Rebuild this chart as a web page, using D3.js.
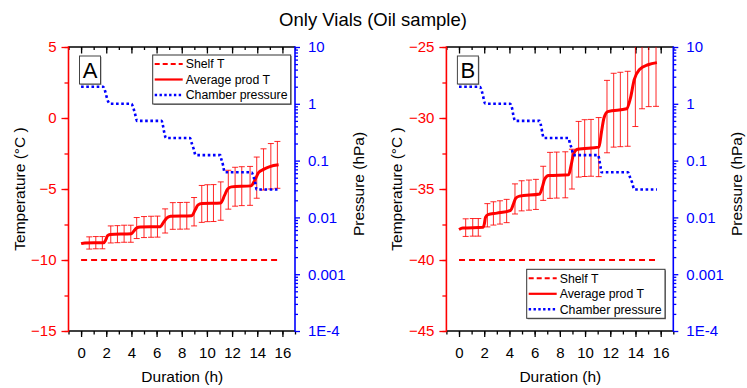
<!DOCTYPE html>
<html><head><meta charset="utf-8">
<script src="https://cdn.jsdelivr.net/npm/d3@7"></script>
<style>body{margin:0;background:#fff}svg{display:block;font-family:"Liberation Sans",Arial,sans-serif}</style>
</head><body><svg id="c" width="747" height="388"></svg>
<script>
// ---------- data ----------
const title = "Only Vials (Oil sample)";
const xTicks = [0, 2, 4, 6, 8, 10, 12, 14, 16];
const pTicks = [10, 1, 0.1, 0.01, 0.001, 0.0001];
const pTickLabels = ["10", "1", "0.1", "0.01", "0.001", "1E-4"];
const legendLabels = ["Shelf T", "Average prod T", "Chamber pressure"];

// Panel A
const tempTicksA = [5, 0, -5, -10, -15];
const shelfTimeA = [0, 15.7];
const shelfA = [-10, -10];
const prodTimeA = [0, 0.3, 1.8, 1.95, 2.1, 2.3, 4.0, 4.2, 4.4, 4.7, 6.3, 6.55, 6.8, 7.1, 8.8, 9.05, 9.3, 9.6, 11.1, 11.4, 11.65, 11.95, 13.5, 13.8, 14.1, 14.5, 15.0, 15.7];
const prodA = [-8.85, -8.8, -8.78, -8.6, -8.3, -8.2, -8.15, -7.95, -7.75, -7.68, -7.65, -7.35, -7.05, -6.92, -6.88, -6.5, -6.12, -6.02, -5.98, -5.45, -5.0, -4.85, -4.78, -4.4, -3.85, -3.62, -3.42, -3.3];
const errTimeA = [0.65, 1.17, 1.69, 2.36, 2.89, 3.42, 3.95, 4.42, 5.0, 5.56, 6.07, 6.68, 7.29, 7.87, 8.4, 8.98, 9.59, 10.04, 10.52, 11.1, 11.7, 12.24, 12.77, 13.43, 13.96, 14.5, 15.08, 15.6];
const errMeanA = [-8.8, -8.78, -8.78, -8.2, -8.18, -8.15, -8.15, -7.75, -7.68, -7.66, -7.65, -7.25, -6.9, -6.89, -6.88, -6.6, -6.05, -6.0, -5.99, -5.85, -5.05, -4.84, -4.8, -4.78, -4.2, -3.62, -3.4, -3.3];
const errA = [0.43, 0.43, 0.43, 0.6, 0.6, 0.6, 0.6, 0.74, 0.74, 0.74, 0.74, 0.85, 0.94, 0.94, 0.94, 1.0, 1.3, 1.3, 1.3, 1.35, 1.37, 1.37, 1.37, 1.37, 1.45, 1.45, 1.6, 1.65];
const presTimeA = [0, 1.75, 1.9, 2.0, 2.15, 2.3, 4.0, 4.15, 4.3, 4.45, 6.4, 6.5, 6.6, 6.75, 8.65, 8.8, 8.95, 9.1, 11.05, 11.15, 11.3, 11.4, 13.55, 13.7, 13.85, 13.95, 15.7];
const presA = [2, 2, 1.7, 1.4, 1.1, 1, 1, 0.85, 0.65, 0.5, 0.5, 0.42, 0.32, 0.25, 0.25, 0.2, 0.16, 0.125, 0.125, 0.105, 0.08, 0.0625, 0.0625, 0.052, 0.04, 0.031, 0.031];

// Panel B
const tempTicksB = [-25, -30, -35, -40, -45];
const shelfTimeB = [0, 15.7];
const shelfB = [-40, -40];
const prodTimeB = [0, 0.3, 1.9, 2.0, 2.1, 2.3, 3.0, 4.1, 4.3, 4.5, 4.8, 6.4, 6.6, 6.8, 7.1, 8.7, 8.9, 9.1, 9.4, 11.1, 11.3, 11.5, 11.8, 13.3, 13.6, 13.9, 14.3, 15.0, 15.7];
const prodB = [-37.85, -37.75, -37.7, -37.5, -37.0, -36.8, -36.7, -36.5, -36.1, -35.65, -35.5, -35.35, -34.9, -34.3, -34.05, -34.0, -33.3, -32.5, -32.2, -32.05, -31.0, -30.0, -29.55, -29.35, -28.6, -27.3, -26.6, -26.25, -26.1];
const errTimeB = [0.53, 1.09, 1.53, 2.25, 2.73, 3.25, 3.78, 4.44, 4.97, 5.55, 6.1, 6.68, 7.22, 7.75, 8.43, 8.96, 9.49, 9.97, 10.47, 11.08, 11.74, 12.27, 12.8, 13.38, 13.99, 14.52, 15.05, 15.63];
const errMeanB = [-37.72, -37.7, -37.7, -36.85, -36.72, -36.65, -36.55, -35.7, -35.48, -35.43, -35.38, -34.6, -34.04, -34.02, -34.0, -33.6, -32.2, -32.12, -32.1, -32.05, -29.9, -29.45, -29.4, -29.35, -27.3, -26.5, -26.25, -26.12];
const errB = [0.62, 0.62, 0.62, 0.82, 0.82, 0.82, 0.82, 1.06, 1.06, 1.06, 1.06, 1.2, 1.62, 1.62, 1.62, 1.4, 1.96, 2.0, 2.0, 2.08, 2.55, 2.6, 2.62, 2.64, 3.3, 2.85, 2.95, 3.06];
const presTimeB = [0, 1.65, 1.8, 1.9, 2.0, 2.1, 4.05, 4.2, 4.3, 4.45, 6.4, 6.5, 6.6, 6.72, 8.68, 8.8, 8.95, 9.07, 11.05, 11.12, 11.22, 11.3, 13.4, 13.55, 13.75, 13.9, 15.7];
const presB = [2, 2, 1.7, 1.4, 1.1, 1, 1, 0.85, 0.65, 0.5, 0.5, 0.42, 0.32, 0.25, 0.25, 0.2, 0.16, 0.125, 0.125, 0.105, 0.08, 0.0625, 0.0625, 0.052, 0.04, 0.031, 0.031];

// ---------- drawing ----------
const RED = "#ff0000", BLUE = "#0000ff";
const svg = d3.select("#c");
svg.append("text").attr("x", 373).attr("y", 26).attr("text-anchor", "middle")
  .attr("font-size", 18.5).text(title);

const panels = [
  {id: "A", left: 68.5, right: 295, tempDom: [-15, 5], tempTicks: tempTicksA,
   shelfT: shelfTimeA, shelf: shelfA, prodT: prodTimeA, prod: prodA,
   errT: errTimeA, errM: errMeanA, err: errA, presT: presTimeA, pres: presA,
   legend: {x: 152.7, y: 55, w: 138, h: 49}},
  {id: "B", left: 446.4, right: 673.3, tempDom: [-45, -25], tempTicks: tempTicksB,
   shelfT: shelfTimeB, shelf: shelfB, prodT: prodTimeB, prod: prodB,
   errT: errTimeB, errM: errMeanB, err: errB, presT: presTimeB, pres: presB,
   legend: {x: 526.7, y: 269.3, w: 138.3, h: 49}}
];
const plotTop = 47, plotBottom = 331;

panels.forEach((p, pi) => {
  const g = svg.append("g");
  const x = d3.scaleLinear().domain([-1, 17]).range([p.left, p.right]);
  const y = d3.scaleLinear().domain(p.tempDom).range([plotBottom, plotTop]);
  const yp = d3.scaleLog().domain([1e-4, 10]).range([plotBottom, plotTop]);

  const clipId = "clip" + pi;
  svg.append("clipPath").attr("id", clipId).append("rect")
    .attr("x", p.left).attr("y", plotTop).attr("width", p.right - p.left).attr("height", plotBottom - plotTop);

  // bottom axis minor/major
  const minorX = d3.range(-1, 18, 1);
  const bx = g.append("g").attr("transform", `translate(0,${plotBottom})`);
  bx.call(d3.axisBottom(x).tickValues(minorX).tickSize(3.5).tickFormat(""));
  const bxm = g.append("g").attr("transform", `translate(0,${plotBottom})`);
  bxm.call(d3.axisBottom(x).tickValues(xTicks).tickSize(6).tickPadding(10).tickFormat(d3.format("d")));
  [bx, bxm].forEach(a => { a.select(".domain").remove(); a.selectAll("line").attr("stroke", "#000").attr("stroke-width", 1.3); });
  bxm.selectAll("text").attr("font-size", 15).attr("fill", "#000").attr("font-family", "Liberation Sans, Arial");
  // top axis (inward)
  const tx = g.append("g").attr("transform", `translate(0,${plotTop})`);
  tx.call(d3.axisBottom(x).tickValues(minorX).tickSize(3).tickFormat(""));
  const txm = g.append("g").attr("transform", `translate(0,${plotTop})`);
  txm.call(d3.axisBottom(x).tickValues(xTicks).tickSize(6.5).tickFormat(""));
  [tx, txm].forEach(a => { a.select(".domain").remove(); a.selectAll("line").attr("stroke", "#000").attr("stroke-width", 1.3); });
  g.append("line").attr("x1", p.left).attr("x2", p.right).attr("y1", plotTop).attr("y2", plotTop).attr("stroke", "#000").attr("stroke-width", 1.5);
  g.append("line").attr("x1", p.left).attr("x2", p.right).attr("y1", plotBottom).attr("y2", plotBottom).attr("stroke", "#000").attr("stroke-width", 1.5);

  // left temperature axis
  const minorT = d3.range(p.tempDom[0], p.tempDom[1] + 0.01, 2.5);
  const ly = g.append("g").attr("transform", `translate(${p.left},0)`);
  ly.call(d3.axisLeft(y).tickValues(minorT).tickSize(4).tickFormat(""));
  const lym = g.append("g").attr("transform", `translate(${p.left},0)`);
  lym.call(d3.axisLeft(y).tickValues(p.tempTicks).tickSize(7).tickPadding(5).tickFormat(d3.format("d")));
  [ly, lym].forEach(a => { a.select(".domain").remove(); a.selectAll("line").attr("stroke", RED).attr("stroke-width", 1.3); });
  lym.selectAll("text").attr("font-size", 15).attr("fill", RED).attr("font-family", "Liberation Sans, Arial");
  g.append("line").attr("x1", p.left).attr("x2", p.left).attr("y1", plotTop - 0.7).attr("y2", plotBottom + 0.7).attr("stroke", RED).attr("stroke-width", 1.6);

  // right pressure axis
  const minorP = yp.ticks().filter(v => Math.abs(Math.log10(v) - Math.round(Math.log10(v))) > 1e-6);
  const ry = g.append("g").attr("transform", `translate(${p.right},0)`);
  ry.call(d3.axisRight(yp).tickValues(minorP).tickSize(3).tickFormat(""));
  const rym = g.append("g").attr("transform", `translate(${p.right},0)`);
  rym.call(d3.axisRight(yp).tickValues(pTicks).tickSize(5).tickPadding(8).tickFormat((d, i) => pTickLabels[i]));
  [ry, rym].forEach(a => { a.select(".domain").remove(); a.selectAll("line").attr("stroke", BLUE).attr("stroke-width", 1.3); });
  rym.selectAll("text").attr("font-size", 15).attr("fill", BLUE).attr("font-family", "Liberation Sans, Arial");
  g.append("line").attr("x1", p.right).attr("x2", p.right).attr("y1", plotTop - 0.7).attr("y2", plotBottom + 0.7).attr("stroke", BLUE).attr("stroke-width", 1.6);

  // axis titles
  const cx = (p.left + p.right) / 2;
  g.append("text").attr("x", cx + 0.5).attr("y", 382).attr("text-anchor", "middle").attr("font-size", 15.5).text("Duration (h)");
  g.append("text").attr("transform", `translate(${p.left - 44},${189}) rotate(-90)`).attr("text-anchor", "middle").attr("font-size", 15.5).text("Temperature (°C )");
  g.append("text").attr("transform", `translate(${p.right + 69},${184}) rotate(-90)`).attr("text-anchor", "middle").attr("font-size", 15.5).text("Pressure (hPa)");

  // data layers
  const dg = g.append("g").attr("clip-path", `url(#${clipId})`);
  dg.append("path").datum(p.shelfT.map((t, i) => [t, p.shelf[i]]))
    .attr("d", d3.line().x(d => x(d[0])).y(d => y(d[1])))
    .attr("fill", "none").attr("stroke", RED).attr("stroke-width", 2).attr("stroke-dasharray", "6,4");
  const eb = dg.append("g").attr("stroke", RED).attr("stroke-width", 1).attr("stroke-opacity", 0.85);
  p.errT.forEach((t, i) => {
    const xx = x(t), y1 = y(p.errM[i] + p.err[i]), y2 = y(p.errM[i] - p.err[i]);
    eb.append("line").attr("x1", xx).attr("x2", xx).attr("y1", y1).attr("y2", y2);
    eb.append("line").attr("x1", xx - 3).attr("x2", xx + 3).attr("y1", y1).attr("y2", y1);
    eb.append("line").attr("x1", xx - 3).attr("x2", xx + 3).attr("y1", y2).attr("y2", y2);
  });
  dg.append("path").datum(p.prodT.map((t, i) => [t, p.prod[i]]))
    .attr("d", d3.line().curve(d3.curveMonotoneX).x(d => x(d[0])).y(d => y(d[1])))
    .attr("fill", "none").attr("stroke", RED).attr("stroke-width", 3);
  g.append("path").datum(p.presT.map((t, i) => [t, p.pres[i]]))
    .attr("d", d3.line().curve(d3.curveMonotoneX).x(d => x(d[0])).y(d => yp(d[1])))
    .attr("fill", "none").attr("stroke", BLUE).attr("stroke-width", 2.6).attr("stroke-dasharray", "2.6,2.6");

  // panel letter box
  const lb = {x: p.left + 11, y: 56, w: 21, h: 28};
  g.append("rect").attr("x", lb.x + 1).attr("y", lb.y + 1).attr("width", lb.w).attr("height", lb.h).attr("fill", "#999");
  g.append("rect").attr("x", lb.x).attr("y", lb.y).attr("width", lb.w).attr("height", lb.h).attr("fill", "#fff").attr("stroke", "#444").attr("stroke-width", 1);
  g.append("text").attr("x", lb.x + lb.w / 2).attr("y", lb.y + 22).attr("text-anchor", "middle").attr("font-size", 22).text(p.id);

  // legend
  const L = p.legend;
  g.append("rect").attr("x", L.x + 1).attr("y", L.y + 1).attr("width", L.w).attr("height", L.h).attr("fill", "#888");
  g.append("rect").attr("x", L.x).attr("y", L.y).attr("width", L.w).attr("height", L.h).attr("fill", "#fff").attr("stroke", "#333").attr("stroke-width", 1);
  const styles = [
    {stroke: RED, w: 2, dash: "5,3"},
    {stroke: RED, w: 2.2, dash: null},
    {stroke: BLUE, w: 2.4, dash: "2.4,2.4"}
  ];
  legendLabels.forEach((lab, i) => {
    const yy = L.y + 9 + i * 15.5;
    const s = styles[i];
    const ln = g.append("line").attr("x1", L.x + 2).attr("x2", L.x + 30).attr("y1", yy).attr("y2", yy)
      .attr("stroke", s.stroke).attr("stroke-width", s.w);
    if (s.dash) ln.attr("stroke-dasharray", s.dash);
    g.append("text").attr("x", L.x + 33).attr("y", yy + 4.3).attr("font-size", 12.3).text(lab);
  });
});
</script></body></html>
